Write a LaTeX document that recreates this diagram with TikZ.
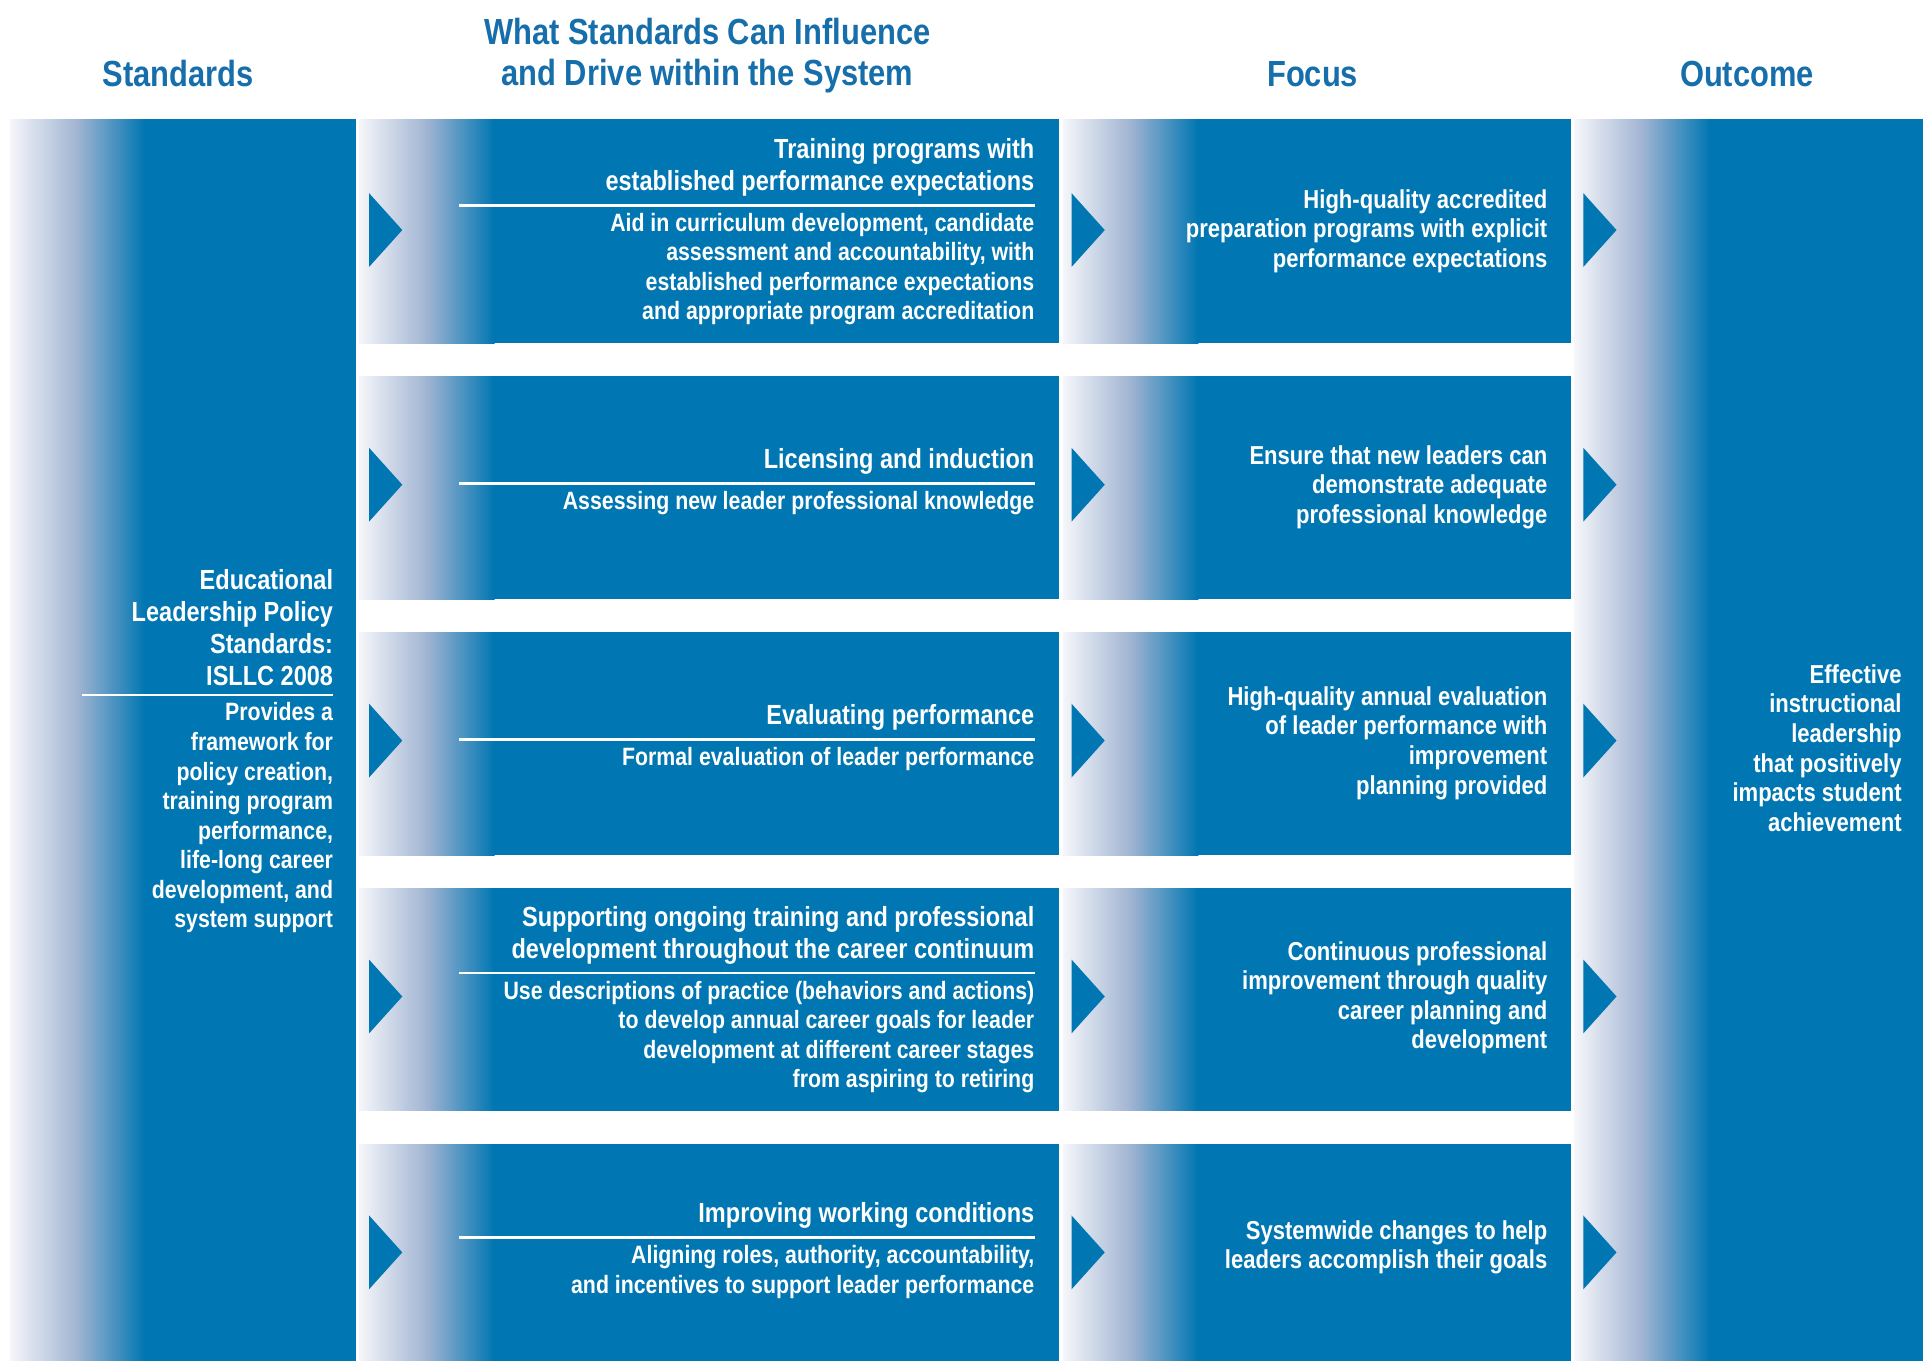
\documentclass[tikz,border=0pt]{standalone}
\usepackage{fontspec}
\setmainfont{Liberation Sans}[FakeStretch=0.85]
\usepackage{tikz}
\usetikzlibrary{positioning}
\definecolor{boxblue}{RGB}{0,118,178}
\definecolor{headblue}{RGB}{22,110,170}
\definecolor{fadeblue}{RGB}{160,180,210}
\definecolor{paleblue}{RGB}{245,246,250}
\tikzstyle{colhead}   = [text=headblue, font=\bfseries\fontsize{21}{23.5}\selectfont, align=center]
\tikzstyle{rowtitle}  = [text=white, font=\bfseries\fontsize{16}{18.5}\selectfont, align=right, anchor=south east, inner sep=0pt]
\tikzstyle{rowbody}   = [text=white, font=\bfseries\fontsize{14.5}{17.07}\selectfont, align=right, anchor=north east, inner sep=0pt]
\tikzstyle{focustext} = [text=white, font=\bfseries\fontsize{15}{17.07}\selectfont, align=right, anchor=east, inner sep=0pt]
\tikzstyle{whiteline} = [white, line width=1.5pt]
\tikzstyle{fade}      = [left color=paleblue, right color=boxblue, middle color=fadeblue]
\tikzstyle{tri}       = [fill=boxblue]

\begin{document}
\begin{tikzpicture}[x=2.5cm,y=-2.5cm]
		\fill[white] (0,0) rectangle (15.68,11.06);
		\useasboundingbox (0,0) rectangle (15.68,11.06);

		\node[colhead] (hstd) at (1.45,0.60) {Standards};
		\node[colhead] (hmid) at (5.75,0.45) {What Standards Can Influence\\and Drive within the System};
		\node[colhead] (hfoc) at (10.67,0.60) {Focus};
		\node[colhead] (hout) at (14.20,0.60) {Outcome};

		\shade[fade] (0.08,0.97) rectangle (1.18,11.06);
		\fill[boxblue] (1.17,0.97) rectangle (2.89,11.06);
		\shade[fade] (12.80,0.97) rectangle (13.90,11.06);
		\fill[boxblue] (13.89,0.97) rectangle (15.63,11.06);

		\shade[fade] (2.92,0.97) rectangle (4.02,2.79);
		\fill[boxblue] (4.01,0.97) rectangle (8.61,2.79);
		\shade[fade] (8.64,0.97) rectangle (9.74,2.79);
		\fill[boxblue] (9.73,0.97) rectangle (12.77,2.79);

		\shade[fade] (2.92,3.06) rectangle (4.02,4.87);
		\fill[boxblue] (4.01,3.06) rectangle (8.61,4.87);
		\shade[fade] (8.64,3.06) rectangle (9.74,4.87);
		\fill[boxblue] (9.73,3.06) rectangle (12.77,4.87);

		\shade[fade] (2.92,5.14) rectangle (4.02,6.95);
		\fill[boxblue] (4.01,5.14) rectangle (8.61,6.95);
		\shade[fade] (8.64,5.14) rectangle (9.74,6.95);
		\fill[boxblue] (9.73,5.14) rectangle (12.77,6.95);

		\shade[fade] (2.92,7.22) rectangle (4.02,9.03);
		\fill[boxblue] (4.01,7.22) rectangle (8.61,9.03);
		\shade[fade] (8.64,7.22) rectangle (9.74,9.03);
		\fill[boxblue] (9.73,7.22) rectangle (12.77,9.03);

		\shade[fade] (2.92,9.30) rectangle (4.02,11.06);
		\fill[boxblue] (4.01,9.30) rectangle (8.61,11.06);
		\shade[fade] (8.64,9.30) rectangle (9.74,11.06);
		\fill[boxblue] (9.73,9.30) rectangle (12.77,11.06);

		\fill[tri] (3.00,1.57) -- (3.27,1.87) -- (3.00,2.17) -- cycle;
		\fill[tri] (8.71,1.57) -- (8.98,1.87) -- (8.71,2.17) -- cycle;
		\fill[tri] (12.87,1.57) -- (13.14,1.87) -- (12.87,2.17) -- cycle;
		\fill[tri] (3.00,3.64) -- (3.27,3.94) -- (3.00,4.24) -- cycle;
		\fill[tri] (8.71,3.64) -- (8.98,3.94) -- (8.71,4.24) -- cycle;
		\fill[tri] (12.87,3.64) -- (13.14,3.94) -- (12.87,4.24) -- cycle;
		\fill[tri] (3.00,5.72) -- (3.27,6.02) -- (3.00,6.32) -- cycle;
		\fill[tri] (8.71,5.72) -- (8.98,6.02) -- (8.71,6.32) -- cycle;
		\fill[tri] (12.87,5.72) -- (13.14,6.02) -- (12.87,6.32) -- cycle;
		\fill[tri] (3.00,7.80) -- (3.27,8.10) -- (3.00,8.40) -- cycle;
		\fill[tri] (8.71,7.80) -- (8.98,8.10) -- (8.71,8.40) -- cycle;
		\fill[tri] (12.87,7.80) -- (13.14,8.10) -- (12.87,8.40) -- cycle;
		\fill[tri] (3.00,9.88) -- (3.27,10.18) -- (3.00,10.48) -- cycle;
		\fill[tri] (8.71,9.88) -- (8.98,10.18) -- (8.71,10.48) -- cycle;
		\fill[tri] (12.87,9.88) -- (13.14,10.18) -- (12.87,10.48) -- cycle;

		\node[rowtitle] (std) at (2.71,5.58) {Educational\\Leadership Policy\\Standards:\\ISLLC 2008};
		\draw[whiteline] (0.67,5.65) -- (2.71,5.65);
		\node[rowbody] (stdbody) at (2.71,5.71) {Provides a\\framework for\\policy creation,\\training program\\performance,\\life-long career\\development, and\\system support};

		\node[rowtitle] (t1) at (8.41,1.60) {Training programs with\\established performance expectations};
		\draw[whiteline] (3.73,1.67) -- (8.41,1.67);
		\node[rowbody] (b1) at (8.41,1.73) {Aid in curriculum development, candidate\\assessment and accountability, with\\established performance expectations\\and appropriate program accreditation};
		\node[focustext] (f1) at (12.58,1.88) {High-quality accredited\\preparation programs with explicit\\performance expectations};

		\node[rowtitle] (t2) at (8.41,3.86) {Licensing and induction};
		\draw[whiteline] (3.73,3.93) -- (8.41,3.93);
		\node[rowbody] (b2) at (8.41,3.99) {Assessing new leader professional knowledge};
		\node[focustext] (f2) at (12.58,3.96) {Ensure that new leaders can\\demonstrate adequate\\professional knowledge};

		\node[rowtitle] (t3) at (8.41,5.94) {Evaluating performance};
		\draw[whiteline] (3.73,6.01) -- (8.41,6.01);
		\node[rowbody] (b3) at (8.41,6.07) {Formal evaluation of leader performance};
		\node[focustext] (f3) at (12.58,6.04) {High-quality annual evaluation\\of leader performance with\\improvement\\planning provided};

		\node[rowtitle] (t4) at (8.41,7.84) {Supporting ongoing training and professional\\development throughout the career continuum};
		\draw[whiteline] (3.73,7.91) -- (8.41,7.91);
		\node[rowbody] (b4) at (8.41,7.97) {Use descriptions of practice (behaviors and actions)\\to develop annual career goals for leader\\development at different career stages\\from aspiring to retiring};
		\node[focustext] (f4) at (12.58,8.11) {Continuous professional\\improvement through quality\\career planning and\\development};

		\node[rowtitle] (t5) at (8.41,9.99) {Improving working conditions};
		\draw[whiteline] (3.73,10.06) -- (8.41,10.06);
		\node[rowbody] (b5) at (8.41,10.12) {Aligning roles, authority, accountability,\\and incentives to support leader performance};
		\node[focustext] (f5) at (12.58,10.14) {Systemwide changes to help\\leaders accomplish their goals};

		\node[focustext] (out) at (15.46,6.08) {Effective\\instructional\\leadership\\that positively\\impacts student\\achievement};
	\end{tikzpicture}
\end{document}
